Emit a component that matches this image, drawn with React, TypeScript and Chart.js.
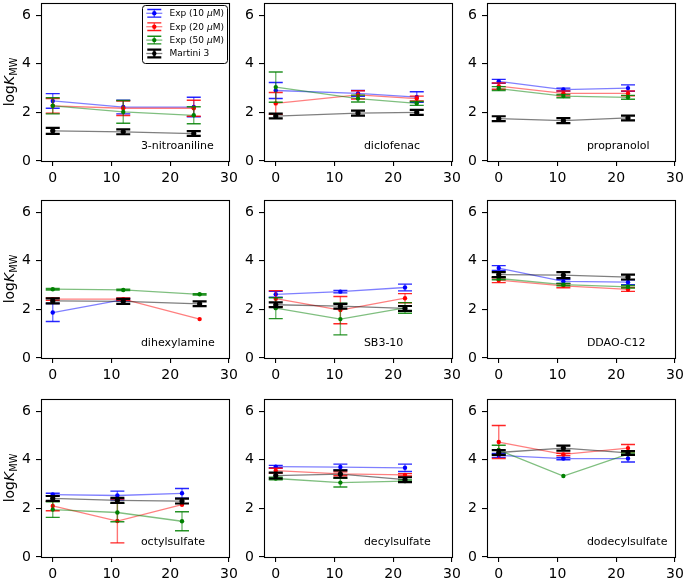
import React, { useEffect, useRef } from "react";
import { Chart, registerables } from "chart.js";

Chart.register(...registerables);

// ---------------- DATA ----------------
const compoundNames = [
  "3-nitroaniline",
  "diclofenac",
  "propranolol",
  "dihexylamine",
  "SB3-10",
  "DDAO-C12",
  "octylsulfate",
  "decylsulfate",
  "dodecylsulfate",
];

const timePoints = [
  [0, 12, 24],
  [0, 14, 24],
  [0, 11, 22],
  [0, 12, 25],
  [0, 11, 22],
  [0, 11, 22],
  [0, 11, 22],
  [0, 11, 22],
  [0, 11, 22],
];

const exp10Mean = [
  [2.47, 2.22, 2.22],
  [2.9, 2.78, 2.63],
  [3.28, 2.94, 3.0],
  [1.87, 2.4, null],
  [2.62, 2.73, 2.9],
  [3.7, 3.15, 3.12],
  [2.57, 2.53, 2.62],
  [3.72, 3.7, 3.67],
  [4.18, 4.05, 4.05],
];
const exp10Err = [
  [0.3, 0.28, 0.4],
  [0.33, 0.12, 0.22],
  [0.08, 0.06, 0.13],
  [0.37, 0.05, null],
  [0.12, 0.05, 0.14],
  [0.1, 0.08, 0.1],
  [0.05, 0.18, 0.2],
  [0.05, 0.12, 0.15],
  [0.08, 0.05, 0.14],
];

const exp20Mean = [
  [2.27, 2.17, 2.17],
  [2.37, 2.72, 2.57],
  [3.08, 2.78, 2.78],
  [2.42, 2.42, 1.6],
  [2.44, 1.97, 2.46],
  [3.2, 2.97, 2.82],
  [2.1, 1.48, 2.15],
  [3.55, 3.42, 3.38],
  [4.73, 4.22, 4.48],
];
const exp20Err = [
  [0.3, 0.3, 0.33],
  [0.45, 0.17, 0.1],
  [0.13, 0.1, 0.1],
  [0.05, 0.05, null],
  [0.33, 0.56, 0.19],
  [0.1, 0.08, 0.08],
  [0.2, 0.9, null],
  [0.1, 0.08, 0.05],
  [0.68, 0.05, 0.15],
];

const exp50Mean = [
  [2.27, 2.02, 1.88],
  [3.04, 2.57, 2.37],
  [2.98, 2.67, 2.62],
  [2.83, 2.8, 2.62],
  [2.05, 1.6, 2.06],
  [3.27, 3.02, 2.93],
  [1.95, 1.83, 1.47],
  [3.23, 3.06, 3.12],
  [4.4, 3.33, 4.23],
];
const exp50Err = [
  [0.33, 0.47, 0.35],
  [0.62, 0.14, 0.08],
  [0.08, 0.07, 0.08],
  [0.03, 0.03, 0.03],
  [0.43, 0.65, 0.22],
  [0.05, 0.05, 0.05],
  [0.32, 0.38, 0.39],
  [0.05, 0.18, 0.05],
  [0.2, null, 0.05],
];

const martiniMean = [
  [1.24, 1.2, 1.13],
  [1.85, 1.97, 2.0],
  [1.74, 1.66, 1.77],
  [2.35, 2.33, 2.23],
  [2.19, 2.13, 2.04],
  [3.43, 3.41, 3.33],
  [2.41, 2.33, 2.3],
  [3.35, 3.41, 3.18],
  [4.3, 4.48, 4.28],
];
const martiniErr = [
  [0.12, 0.1, 0.1],
  [0.1, 0.1, 0.1],
  [0.1, 0.1, 0.1],
  [0.1, 0.1, 0.1],
  [0.1, 0.1, 0.1],
  [0.1, 0.12, 0.1],
  [0.1, 0.1, 0.1],
  [0.12, 0.15, 0.1],
  [0.1, 0.1, 0.08],
];

const seriesLabels = ["Exp (10 μM)", "Exp (20 μM)", "Exp (50 μM)", "Martini 3"];
const xTickValues = [0, 10, 20, 30];
const yTickValues = [0, 2, 4, 6];

// ---------------- STYLE / LAYOUT ----------------
const FONT = '"DejaVu Sans", sans-serif';
const seriesRGB = ["0,0,255", "255,0,0", "0,128,0", "0,0,0"];
const seriesErrWidth = [1.4, 1.4, 1.4, 2.2];
const seriesMeans = [exp10Mean, exp20Mean, exp50Mean, martiniMean];
const seriesErrs = [exp10Err, exp20Err, exp50Err, martiniErr];

const ROW_TOPS = [3, 200, 399];
const COL_PITCH = 223;
const CANVAS_W = 240;
const CANVAS_H = 183;
const CAP = 7;

function drawErrorSymbol(ctx, cx, cy, k, capHalf, barHalf) {
  const rgb = seriesRGB[k];
  ctx.lineWidth = seriesErrWidth[k];
  ctx.strokeStyle = `rgba(${rgb},${k === 3 ? 0.9 : 0.6})`;
  ctx.beginPath();
  ctx.moveTo(cx, cy - barHalf);
  ctx.lineTo(cx, cy + barHalf);
  ctx.stroke();
  ctx.strokeStyle = `rgba(${rgb},${k === 3 ? 1 : 0.9})`;
  ctx.beginPath();
  ctx.moveTo(cx - capHalf, cy - barHalf);
  ctx.lineTo(cx + capHalf, cy - barHalf);
  ctx.moveTo(cx - capHalf, cy + barHalf);
  ctx.lineTo(cx + capHalf, cy + barHalf);
  ctx.stroke();
}

const errorBarPlugin = {
  id: "errorBars",
  beforeDatasetDraw(chart, args) {
    const ds = chart.data.datasets[args.index];
    const errs = ds.errors;
    if (!errs) return;
    const ctx = chart.ctx;
    const xs = chart.scales.x;
    const ys = chart.scales.y;
    const k = ds.seriesIndex;
    const rgb = seriesRGB[k];
    ctx.save();
    ds.data.forEach((p, i) => {
      const e = errs[i];
      if (e == null || p.y == null) return;
      const px = xs.getPixelForValue(p.x);
      const top = ys.getPixelForValue(p.y + e);
      const bot = ys.getPixelForValue(p.y - e);
      ctx.lineWidth = seriesErrWidth[k];
      ctx.strokeStyle = `rgba(${rgb},${k === 3 ? 0.9 : 0.55})`;
      ctx.beginPath();
      ctx.moveTo(px, top);
      ctx.lineTo(px, bot);
      ctx.stroke();
      ctx.strokeStyle = `rgba(${rgb},${k === 3 ? 1 : 0.85})`;
      ctx.beginPath();
      ctx.moveTo(px - CAP, top);
      ctx.lineTo(px + CAP, top);
      ctx.moveTo(px - CAP, bot);
      ctx.lineTo(px + CAP, bot);
      ctx.stroke();
    });
    ctx.restore();
  },
};

const framePlugin = {
  id: "frame",
  afterDraw(chart) {
    const { ctx, chartArea } = chart;
    ctx.save();
    ctx.strokeStyle = "#000";
    ctx.lineWidth = 1.1;
    const l = Math.round(chartArea.left) + 0.5;
    const t = Math.round(chartArea.top) + 0.5;
    const r = Math.round(chartArea.right) + 0.5;
    const b = Math.round(chartArea.bottom) + 0.5;
    ctx.strokeRect(l, t, r - l, b - t);
    ctx.restore();
  },
};

const annotationPlugin = {
  id: "nameLabel",
  afterDatasetsDraw(chart) {
    const name = chart.options.plugins.nameLabel.text;
    const { ctx } = chart;
    ctx.save();
    ctx.font = `11px ${FONT}`;
    ctx.fillStyle = "#000";
    ctx.textAlign = "left";
    ctx.textBaseline = "alphabetic";
    ctx.fillText(name, chart.scales.x.getPixelForValue(15), chart.scales.y.getPixelForValue(0.5));
    ctx.restore();
  },
};

const yTitlePlugin = {
  id: "yTitle",
  afterDraw(chart) {
    const { ctx, chartArea } = chart;
    const cy = (chartArea.top + chartArea.bottom) / 2;
    ctx.save();
    ctx.translate(13.5, cy);
    ctx.rotate(-Math.PI / 2);
    ctx.fillStyle = "#000";
    ctx.textBaseline = "alphabetic";
    ctx.textAlign = "left";
    const fMain = `14px ${FONT}`;
    const fItal = `italic 14px ${FONT}`;
    const fSub = `9.8px ${FONT}`;
    ctx.font = fMain;
    const w1 = ctx.measureText("log").width;
    ctx.font = fItal;
    const w2 = ctx.measureText("K").width;
    ctx.font = fSub;
    const w3 = ctx.measureText("MW").width;
    const total = w1 + w2 + w3;
    let x = -total / 2;
    ctx.font = fMain;
    ctx.fillText("log", x, 0);
    x += w1;
    ctx.font = fItal;
    ctx.fillText("K", x, 0);
    x += w2;
    ctx.font = fSub;
    ctx.fillText("MW", x, 3);
    ctx.restore();
  },
};

const legendPlugin = {
  id: "boxLegend",
  afterDraw(chart) {
    const { ctx, chartArea } = chart;
    const w = 85;
    const h = 58;
    const right = chartArea.right - 2;
    const top = chartArea.top + 2.3;
    const left = right - w;
    ctx.save();
    ctx.beginPath();
    ctx.roundRect(Math.round(left) + 0.5, Math.round(top) + 0.5, w, h, 3);
    ctx.fillStyle = "#fff";
    ctx.fill();
    ctx.strokeStyle = "#000";
    ctx.lineWidth = 1;
    ctx.stroke();
    seriesLabels.forEach((label, k) => {
      const cy = top + 8 + k * 13.4;
      const cx = left + 12.3;
      const rgb = seriesRGB[k];
      ctx.lineWidth = 1.3;
      ctx.strokeStyle = `rgba(${rgb},0.5)`;
      ctx.beginPath();
      ctx.moveTo(cx - 8, cy);
      ctx.lineTo(cx + 8, cy);
      ctx.stroke();
      drawErrorSymbol(ctx, cx, cy, k, CAP, 3.8);
      ctx.fillStyle = `rgb(${rgb})`;
      ctx.beginPath();
      ctx.arc(cx, cy, 2.2, 0, Math.PI * 2);
      ctx.fill();
      ctx.fillStyle = "#000";
      ctx.textBaseline = "middle";
      ctx.textAlign = "left";
      let tx = left + 27.5;
      const parts = label.split("μ");
      ctx.font = `9px ${FONT}`;
      ctx.fillText(parts[0], tx, cy + 0.5);
      tx += ctx.measureText(parts[0]).width;
      if (parts.length > 1) {
        ctx.font = `italic 9px ${FONT}`;
        ctx.fillText("μ", tx, cy + 0.5);
        tx += ctx.measureText("μ").width;
        ctx.font = `9px ${FONT}`;
        ctx.fillText(parts[1], tx, cy + 0.5);
      }
    });
    ctx.restore();
  },
};

function buildConfig(index: number) {
  const col = index % 3;
  const datasets = seriesLabels.map((label, k) => ({
    label,
    seriesIndex: k,
    data: timePoints[index].map((x, j) => ({ x, y: seriesMeans[k][index][j] })),
    errors: seriesErrs[k][index],
    showLine: true,
    borderColor: `rgba(${seriesRGB[k]},0.5)`,
    borderWidth: 1.3,
    backgroundColor: `rgb(${seriesRGB[k]})`,
    pointBackgroundColor: `rgb(${seriesRGB[k]})`,
    pointBorderWidth: 0,
    pointRadius: k === 3 ? 2.6 : 2.2,
    pointHoverRadius: k === 3 ? 2.6 : 2.2,
    tension: 0,
    order: 4 - k,
  }));

  const plugins: any[] = [errorBarPlugin, annotationPlugin, framePlugin];
  if (col === 0) plugins.push(yTitlePlugin);
  if (index === 0) plugins.push(legendPlugin);

  return {
    type: "scatter",
    data: { datasets },
    plugins,
    options: {
      responsive: false,
      animation: false,
      events: [],
      devicePixelRatio: 1,
      layout: { padding: { top: 3, right: 11, left: 0, bottom: 0 } },
      plugins: {
        legend: { display: false },
        tooltip: { enabled: false },
        nameLabel: { text: compoundNames[index] },
      },
      scales: {
        x: {
          type: "linear",
          min: -2,
          max: 30,
          afterBuildTicks: (scale) => {
            scale.ticks = xTickValues.map((v) => ({ value: v }));
          },
          afterFit: (scale) => {
            scale.height = 22;
            scale.paddingLeft = 0;
            scale.paddingRight = 0;
          },
          border: { display: false },
          grid: {
            display: true,
            drawOnChartArea: false,
            drawTicks: true,
            tickLength: 5,
            color: "#000",
            lineWidth: 1.1,
          },
          ticks: {
            color: "#000",
            font: { family: FONT, size: 14 },
            padding: 4,
            maxRotation: 0,
            autoSkip: false,
            callback: (v) => String(v),
          },
        },
        y: {
          type: "linear",
          min: 0,
          max: 6.5,
          afterBuildTicks: (scale) => {
            scale.ticks = yTickValues.map((v) => ({ value: v }));
          },
          afterFit: (scale) => {
            scale.width = 41;
            scale.paddingTop = 0;
            scale.paddingBottom = 0;
          },
          border: { display: false },
          grid: {
            display: true,
            drawOnChartArea: false,
            drawTicks: true,
            tickLength: 5,
            color: "#000",
            lineWidth: 1.1,
          },
          ticks: {
            color: "#000",
            font: { family: FONT, size: 14 },
            padding: 5,
            autoSkip: false,
            callback: (v) => String(v),
          },
        },
      },
    },
  };
}

function Panel({ index }: { index: number }) {
  const ref = useRef<HTMLCanvasElement>(null);
  const row = Math.floor(index / 3);
  const col = index % 3;
  useEffect(() => {
    if (!ref.current) return;
    const chart = new Chart(ref.current, buildConfig(index) as any);
    return () => chart.destroy();
  }, [index]);
  return (
    <canvas
      ref={ref}
      width={CANVAS_W}
      height={CANVAS_H}
      style={{
        position: "absolute",
        left: col * COL_PITCH,
        top: ROW_TOPS[row] - 3,
        width: CANVAS_W,
        height: CANVAS_H,
      }}
    />
  );
}

export default function App() {
  return (
    <div
      style={{
        position: "absolute",
        left: 0,
        top: 0,
        width: 685,
        height: 580,
        background: "#fff",
        overflow: "hidden",
      }}
    >
      {compoundNames.map((_, i) => (
        <Panel key={i} index={i} />
      ))}
    </div>
  );
}
